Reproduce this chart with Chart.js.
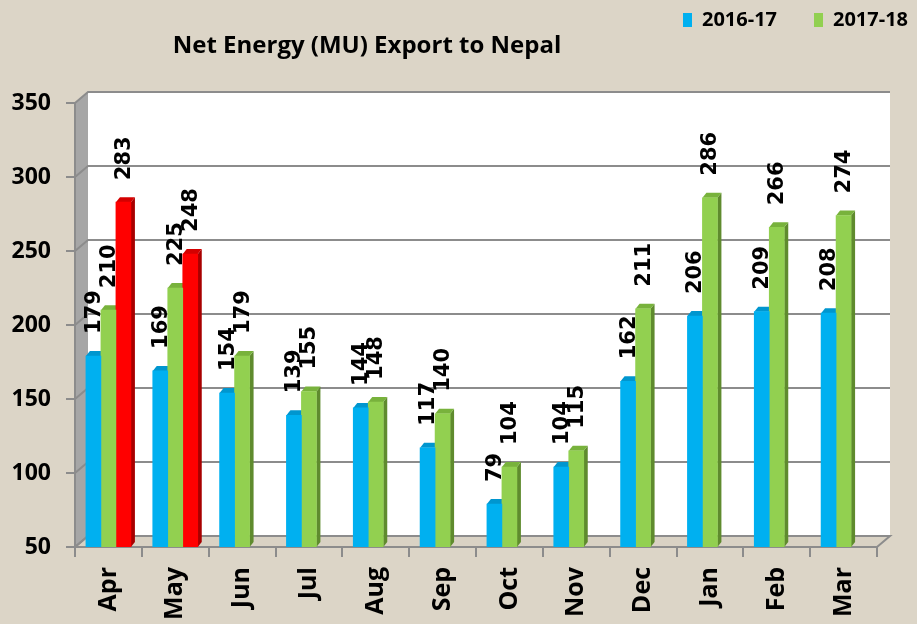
<!DOCTYPE html>
<html>
<head>
<meta charset="utf-8">
<script src="https://cdn.jsdelivr.net/npm/chart.js@4.4.1/dist/chart.umd.min.js"></script>
<style>
    html, body { margin: 0; padding: 0; background: #dcd5c7; }
    canvas { display: block; }
</style>
</head>
<body>
<canvas id="chart" width="917" height="624"></canvas>
<script>
var months = ['Apr', 'May', 'Jun', 'Jul', 'Aug', 'Sep', 'Oct', 'Nov', 'Dec', 'Jan', 'Feb', 'Mar'];
var export1617 = [179, 169, 154, 139, 144, 117, 79, 104, 162, 206, 209, 208];
var export1718 = [210, 225, 179, 155, 148, 140, 104, 115, 211, 286, 266, 274];
var export1819 = [283, 248, null, null, null, null, null, null, null, null, null, null];
var yTicks = [50, 100, 150, 200, 250, 300, 350];
var chartTitle = 'Net Energy (MU) Export to Nepal';

var GRID = '#8c8c8c';
var DEPTH_X = 13, DEPTH_Y = -11;   // wall depth
var BAR_DX = 4, BAR_DY = -5;       // bar depth

function poly(ctx, pts) {
    ctx.beginPath();
    ctx.moveTo(pts[0][0], pts[0][1]);
    for (var i = 1; i < pts.length; i++) ctx.lineTo(pts[i][0], pts[i][1]);
    ctx.closePath();
}

// back wall, side wall, floor and gridlines on the back wall
var wallPlugin = {
    id: 'wall3d',
    beforeDraw(chart) {
        var ctx = chart.ctx, a = chart.chartArea, y = chart.scales.y;
        ctx.save();
        ctx.fillStyle = '#a6a6a6';
        poly(ctx, [[a.left, a.top], [a.left + DEPTH_X, a.top + DEPTH_Y], [a.left + DEPTH_X, a.bottom + DEPTH_Y], [a.left, a.bottom]]);
        ctx.fill();
        ctx.fillStyle = '#ffffff';
        ctx.fillRect(a.left + DEPTH_X, a.top + DEPTH_Y, a.right - a.left, a.bottom - a.top);
        ctx.fillStyle = '#d9d2c4';
        poly(ctx, [[a.left, a.bottom], [a.left + DEPTH_X, a.bottom + DEPTH_Y], [a.right + DEPTH_X, a.bottom + DEPTH_Y], [a.right, a.bottom]]);
        ctx.fill();
        ctx.strokeStyle = GRID;
        ctx.lineWidth = 2;
        ctx.stroke();
        yTicks.forEach((v) => {
            var py = y.getPixelForValue(v);
            ctx.beginPath();
            ctx.moveTo(a.left, py);
            ctx.lineTo(a.left + DEPTH_X, py + DEPTH_Y);
            ctx.lineTo(a.right + DEPTH_X, py + DEPTH_Y);
            ctx.stroke();
        });
        ctx.restore();
    },
    beforeDatasetsDraw(chart) {
        var ctx = chart.ctx;
        var bottom = chart.chartArea.bottom;
        ctx.save();
        chart.data.datasets.forEach((ds, i) => {
            var meta = chart.getDatasetMeta(i);
            meta.data.forEach((bar, j) => {
                if (ds.data[j] == null) return;
                var l = bar.x - bar.width / 2, r = bar.x + bar.width / 2;
                var base = Math.min(bar.base, bottom);
                ctx.fillStyle = ds.sideColor;
                poly(ctx, [[r, bar.y], [r + BAR_DX, bar.y + BAR_DY], [r + BAR_DX, base + BAR_DY], [r, base]]);
                ctx.fill();
                ctx.fillStyle = ds.topColor;
                poly(ctx, [[l, bar.y], [l + BAR_DX, bar.y + BAR_DY], [r + BAR_DX, bar.y + BAR_DY], [r, bar.y]]);
                ctx.fill();
            });
        });
        ctx.restore();
    },
    afterDatasetsDraw(chart) {
        var ctx = chart.ctx;
        ctx.save();
        ctx.font = 'bold 21px "DejaVu Sans"';
        ctx.fillStyle = '#000';
        ctx.textAlign = 'left';
        ctx.textBaseline = 'middle';
        chart.data.datasets.forEach((ds, i) => {
            var meta = chart.getDatasetMeta(i);
            meta.data.forEach((bar, j) => {
                if (ds.data[j] == null) return;
                ctx.save();
                ctx.translate(bar.x + 1, bar.y - 22);
                ctx.rotate(-Math.PI / 2);
                ctx.fillText(String(ds.data[j]), 0, 0);
                ctx.restore();
            });
        });
        ctx.restore();
    },
    afterDraw(chart) {
        var ctx = chart.ctx;
        ctx.save();
        ctx.fillStyle = '#000';
        ctx.font = 'bold 24px "Open Sans"';
        ctx.textAlign = 'center';
        ctx.textBaseline = 'middle';
        ctx.fillText(chartTitle, 367, 46);

        // legend, only the first two series
        var legendX = [683, 814];
        ctx.font = 'bold 20px "Open Sans"';
        ctx.textAlign = 'left';
        for (var i = 0; i < 2; i++) {
            var ds = chart.data.datasets[i];
            ctx.fillStyle = ds.backgroundColor;
            ctx.fillRect(legendX[i], 13, 9, 14);
            ctx.fillStyle = '#000';
            ctx.fillText(ds.label, legendX[i] + 19, 20);
        }
        ctx.restore();
    }
};

new Chart(document.getElementById('chart'), {
    type: 'bar',
    data: {
        labels: months,
        datasets: [
            {
                label: '2016-17',
                data: export1617,
                backgroundColor: '#00b0f0',
                sideColor: '#0083b5',
                topColor: '#0096cf'
            },
            {
                label: '2017-18',
                data: export1718,
                backgroundColor: '#92d050',
                sideColor: '#5f8b2e',
                topColor: '#78b23c'
            },
            {
                label: '2018-19',
                data: export1819,
                backgroundColor: '#ff0000',
                sideColor: '#a80000',
                topColor: '#d40000'
            }
        ]
    },
    options: {
        responsive: false,
        animation: false,
        barThickness: 15,
        borderWidth: 0,
        layout: { padding: { top: 103, left: 0, right: 5, bottom: 0 } },
        plugins: {
            legend: { display: false },
            title: { display: false },
            tooltip: { enabled: false }
        },
        scales: {
            x: {
                grid: { drawOnChartArea: false, tickLength: 10, color: GRID, lineWidth: 2, offset: true },
                border: { color: GRID, width: 2 },
                ticks: {
                    minRotation: 90,
                    maxRotation: 90,
                    padding: 10,
                    color: '#000',
                    font: { family: 'Open Sans', weight: 'bold', size: 25 }
                },
                afterFit: (s) => { s.height = 77; }
            },
            y: {
                min: 50,
                max: 350,
                afterBuildTicks: (s) => { s.ticks = yTicks.map((v) => ({ value: v })); },
                grid: { drawOnChartArea: false, tickLength: 9, color: GRID, lineWidth: 2 },
                border: { color: GRID, width: 2 },
                ticks: { padding: 15, color: '#000', font: { family: 'Open Sans', weight: 'bold', size: 23 } },
                afterFit: (s) => { s.width = 75; }
            },
            pad: {
                position: 'right',
                grid: { display: false },
                border: { display: false },
                ticks: { display: false },
                afterFit: (s) => { s.width = 35; }
            }
        }
    },
    plugins: [wallPlugin]
});
</script>
</body>
</html>
